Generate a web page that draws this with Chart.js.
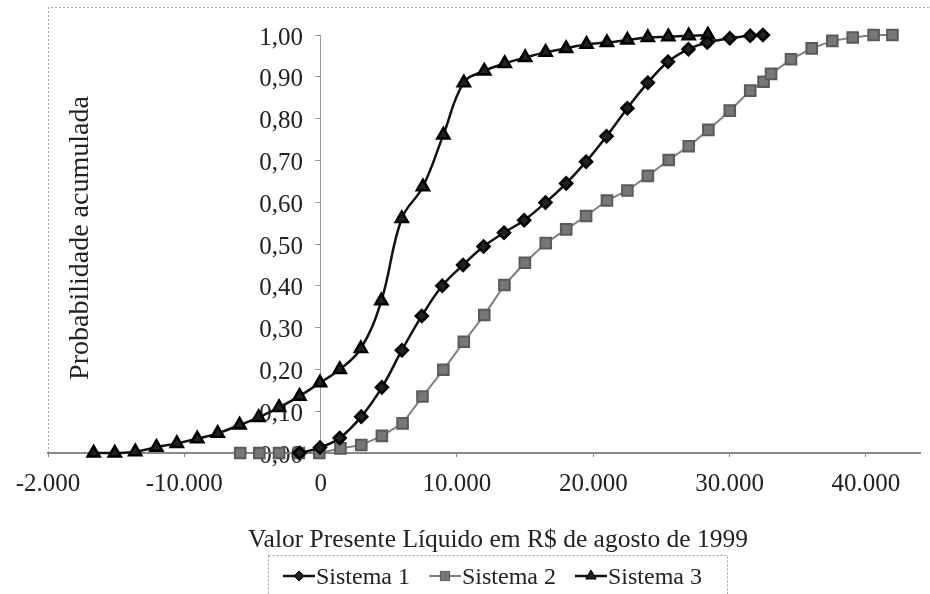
<!DOCTYPE html>
<html>
<head>
<meta charset="utf-8">
<script src="https://cdn.jsdelivr.net/npm/chart.js@4.4.1/dist/chart.umd.min.js"></script>
<style>
html, body { margin: 0; padding: 0; background: #fff; overflow: hidden; }
#wrap { width: 930px; height: 594px; position: relative; }
</style>
</head>
<body>
<div id="wrap"><canvas id="chart"></canvas></div>
<script>
const xTickValues = [-20000, -10000, 0, 10000, 20000, 30000, 40000];
const xTickLabels = ["-2.000", "-10.000", "0", "10.000", "20.000", "30.000", "40.000"];
const yTickLabels = ["0,00", "0,10", "0,20", "0,30", "0,40", "0,50", "0,60", "0,70", "0,80", "0,90", "1,00"];
const seriesNames = ["Sistema 1", "Sistema 2", "Sistema 3"];
const xTitle = "Valor Presente Líquido em R$ de agosto de 1999";
const yTitle = "Probabilidade acumulada";

const sis1X = [-1550, -50, 1400, 2980, 4490, 5960, 7420, 8920, 10450, 11950, 13450, 14930, 16490, 18010, 19470, 20970, 22500, 24000, 25480, 26980, 28360, 30010, 31510, 32440];
const sis1Y = [0, 0.013, 0.036, 0.087, 0.157, 0.246, 0.328, 0.400, 0.450, 0.494, 0.527, 0.557, 0.599, 0.645, 0.697, 0.758, 0.825, 0.886, 0.936, 0.966, 0.982, 0.992, 0.998, 1.0];

const sis2X = [-5900, -4500, -3050, -1600, -100, 1450, 2980, 4490, 6010, 7470, 9000, 10500, 12000, 13480, 14980, 16510, 18010, 19470, 21000, 22500, 24000, 25530, 27000, 28440, 30010, 31510, 32490, 33040, 34500, 36020, 37530, 39030, 40560, 41940];
const sis2Y = [0, 0, 0, 0, 0, 0.011, 0.019, 0.041, 0.071, 0.135, 0.199, 0.266, 0.330, 0.402, 0.455, 0.502, 0.535, 0.567, 0.604, 0.628, 0.663, 0.701, 0.734, 0.773, 0.819, 0.867, 0.888, 0.907, 0.942, 0.968, 0.986, 0.994, 1.0, 1.0];

const sis3X = [-16650, -15100, -13600, -12050, -10550, -9050, -7550, -5950, -4550, -3050, -1550, -50, 1400, 2950, 4450, 5950, 7500, 9000, 10500, 12000, 13500, 15000, 16500, 18000, 19500, 21000, 22500, 24000, 25500, 27000, 28400];
const sis3Y = [0, 0, 0.003, 0.014, 0.023, 0.034, 0.047, 0.067, 0.085, 0.109, 0.136, 0.168, 0.200, 0.250, 0.364, 0.561, 0.637, 0.761, 0.886, 0.914, 0.932, 0.946, 0.959, 0.968, 0.978, 0.982, 0.988, 0.994, 0.996, 0.998, 1.0];

const FONT = "'Liberation Serif', 'Times New Roman', serif";

function pairs(xs, ys) {
    return xs.map((x, i) => ({ x: x, y: ys[i] }));
}

// little marker drawer for the legend
function marker(ctx, style, x, y, r, fill, stroke) {
    ctx.beginPath();
    if (style === "rectRot") {
        ctx.moveTo(x - r, y); ctx.lineTo(x, y - r); ctx.lineTo(x + r, y); ctx.lineTo(x, y + r);
    } else if (style === "rect") {
        const s = r * Math.SQRT1_2;
        ctx.rect(x - s, y - s, 2 * s, 2 * s);
    } else {
        ctx.moveTo(x, y - r); ctx.lineTo(x + r * 0.866, y + r * 0.5); ctx.lineTo(x - r * 0.866, y + r * 0.5);
    }
    ctx.closePath();
    ctx.fillStyle = fill; ctx.fill();
    ctx.lineWidth = 1; ctx.strokeStyle = stroke; ctx.stroke();
}

const extras = {
    id: "extras",
    beforeDraw(chart) {
        const { ctx, chartArea } = chart;
        ctx.save();
        ctx.strokeStyle = "#aaa";
        ctx.lineWidth = 1;
        ctx.setLineDash([2, 2]);
        ctx.beginPath();
        ctx.moveTo(chartArea.left + 0.5, chartArea.bottom);
        ctx.lineTo(chartArea.left + 0.5, 7.5);
        ctx.lineTo(chart.width, 7.5);
        ctx.stroke();
        ctx.restore();
    },
    afterDraw(chart) {
        const { ctx } = chart;
        ctx.save();
        ctx.fillStyle = "#222";
        // x title
        ctx.font = "25.5px " + FONT;
        ctx.textAlign = "center";
        ctx.textBaseline = "alphabetic";
        ctx.fillText(xTitle, 498, 547);
        // y title
        ctx.translate(88, 238);
        ctx.rotate(-Math.PI / 2);
        ctx.font = "28px " + FONT;
        ctx.fillText(yTitle, 0, 0);
        ctx.restore();

        // legend
        ctx.save();
        ctx.font = "24px " + FONT;
        const iconW = 32, gap = 1, between = 19;
        ctx.strokeStyle = "#999";
        ctx.lineWidth = 1;
        ctx.setLineDash([2, 2]);
        ctx.strokeRect(268.5, 555.5, 459, 60);
        ctx.setLineDash([]);
        let x = 283;
        const y = 576;
        chart.data.datasets.forEach(d => {
            ctx.strokeStyle = d.borderColor;
            ctx.lineWidth = d.borderWidth;
            ctx.beginPath();
            ctx.moveTo(x, y); ctx.lineTo(x + iconW, y);
            ctx.stroke();
            marker(ctx, d.pointStyle, x + iconW / 2, y, d.pointRadius - 1, d.pointBackgroundColor, d.pointBorderColor);
            x += iconW + gap;
            ctx.fillStyle = "#222";
            ctx.textBaseline = "alphabetic";
            ctx.textAlign = "left";
            ctx.fillText(d.label, x, 584);
            x += ctx.measureText(d.label).width + between;
        });
        ctx.restore();
    }
};

new Chart(document.getElementById("chart"), {
    type: "scatter",
    data: {
        datasets: [
            {
                label: seriesNames[0], data: pairs(sis1X, sis1Y), showLine: true,
                borderColor: "#111", borderWidth: 2.5, tension: 0.4,
                pointStyle: "rectRot", pointRadius: 6, pointBackgroundColor: "#222", pointBorderColor: "#000",
                clip: false
            },
            {
                label: seriesNames[1], data: pairs(sis2X, sis2Y), showLine: true,
                borderColor: "#808080", borderWidth: 2, tension: 0,
                pointStyle: "rect", pointRadius: 7.5, pointBackgroundColor: "#777", pointBorderColor: "#5a5a5a",
                clip: false
            },
            {
                label: seriesNames[2], data: pairs(sis3X, sis3Y), showLine: true,
                borderColor: "#111", borderWidth: 2.5, tension: 0.4,
                pointStyle: "triangle", pointRadius: 7, pointBackgroundColor: "#222", pointBorderColor: "#000",
                clip: false
            }
        ]
    },
    options: {
        responsive: true,
        maintainAspectRatio: false,
        animation: false,
        layout: { padding: { left: 48, right: 1, top: 35, bottom: 83 } },
        plugins: { legend: { display: false }, tooltip: { enabled: false } },
        scales: {
            x: {
                type: "linear", min: -20000, max: 44000,
                afterBuildTicks: s => { s.ticks = xTickValues.map(v => ({ value: v })); },
                ticks: {
                    padding: 12, color: "#222", maxRotation: 0, autoSkip: false,
                    font: { family: FONT, size: 25 },
                    callback: v => xTickLabels[xTickValues.indexOf(v)]
                },
                grid: { drawOnChartArea: false, drawTicks: true, tickLength: 4, tickColor: "#888" },
                border: { color: "#888", width: 2 }
            },
            y: {
                type: "linear", min: 0, max: 1, position: { x: 0 },
                ticks: { stepSize: 0.1, display: false },
                grid: { drawOnChartArea: false, drawTicks: true, tickLength: 5, tickColor: "#999" },
                border: { color: "#999", width: 1 }
            },
            yLabels: {
                axis: "y", type: "linear", min: 0, max: 1, position: { x: -1300 },
                ticks: {
                    stepSize: 0.1, padding: 0, labelOffset: 3, color: "#222",
                    font: { family: FONT, size: 25 },
                    callback: v => yTickLabels[Math.round(v * 10)]
                },
                grid: { display: false },
                border: { display: false }
            }
        }
    },
    plugins: [extras]
});
</script>
</body>
</html>
